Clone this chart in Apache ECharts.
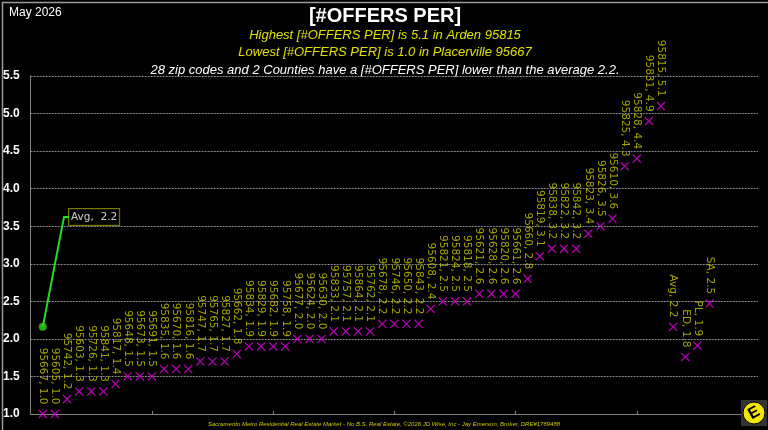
<!DOCTYPE html>
<html>
<head>
<meta charset="utf-8">
<script src="https://cdn.jsdelivr.net/npm/echarts@6/dist/echarts.min.js"></script>
<style>
  html, body { margin: 0; padding: 0; background: #000; }
  #chart { width: 768px; height: 430px; }
</style>
</head>
<body>
<div id="chart"></div>
<script>
// zip codes, sorted low to high
const zips = ['95667', '95605', '95742', '95603', '95726', '95841', '95817', '95648', '95673', '95691',
  '95835', '95670', '95816', '95747', '95765', '95827', '95662', '95834', '95829', '95682',
  '95758', '95677', '95624', '95630', '95833', '95757', '95864', '95762', '95678', '95746',
  '95650', '95843', '95608', '95821', '95824', '95818', '95621', '95628', '95820', '95661',
  '95660', '95819', '95838', '95822', '95842', '95823', '95826', '95610', '95825', '95828',
  '95831', '95815']
const zipValues = [1.0, 1.0, 1.2, 1.3, 1.3, 1.3, 1.4, 1.5, 1.5, 1.5,
  1.6, 1.6, 1.6, 1.7, 1.7, 1.7, 1.8, 1.9, 1.9, 1.9,
  1.9, 2.0, 2.0, 2.0, 2.1, 2.1, 2.1, 2.1, 2.2, 2.2,
  2.2, 2.2, 2.4, 2.5, 2.5, 2.5, 2.6, 2.6, 2.6, 2.6,
  2.8, 3.1, 3.2, 3.2, 3.2, 3.4, 3.5, 3.6, 4.3, 4.4,
  4.9, 5.1]
// average + counties
const countyNames = ['Avg', 'ED', 'PL', 'SA']
const countyValues = [2.16, 1.76, 1.91, 2.47]
const avgValue = 2.16
const yTicks = [1.0, 1.5, 2.0, 2.5, 3.0, 3.5, 4.0, 4.5, 5.0, 5.5]

const magenta = '#e000e0'
const labelYellow = '#cccc00'
const xPath = 'path://M0,1L1,0L5,4L9,0L10,1L6,5L10,9L9,10L5,6L1,10L0,9L4,5Z'

const points = []
zips.forEach((z, i) => {
  points.push([i + 1, zipValues[i], z])
})
countyNames.forEach((c, i) => {
  points.push([zips.length + 1 + i, countyValues[i], c])
})

const chart = echarts.init(document.getElementById('chart'))

const option = {
  backgroundColor: '#000',
  animation: false,
  grid: { left: 30, right: 10, top: 76, bottom: 16 },
  xAxis: {
    type: 'value',
    min: 0,
    max: 60,
    interval: 10,
    axisLine: { show: true, lineStyle: { color: '#808080', width: 1 } },
    axisTick: { show: true, length: 3, inside: true, lineStyle: { color: '#808080' } },
    axisLabel: { show: false },
    splitLine: { show: false }
  },
  yAxis: {
    type: 'value',
    min: yTicks[0],
    max: yTicks[yTicks.length - 1],
    interval: 0.5,
    axisLine: { show: true, lineStyle: { color: '#808080', width: 1 } },
    axisTick: { show: false },
    axisLabel: {
      color: '#fff',
      fontFamily: 'Liberation Sans',
      fontWeight: 'bold',
      fontSize: 12,
      margin: 11,
      formatter: v => v.toFixed(1)
    },
    splitLine: { show: true, lineStyle: { color: '#8a8a8a', type: [2, 1], width: 1 } }
  },
  series: [
    {
      type: 'scatter',
      data: points,
      symbol: xPath,
      symbolSize: 9,
      itemStyle: { color: magenta },
      label: {
        show: true,
        position: 'top',
        distance: 5,
        rotate: -90,
        align: 'right',
        verticalAlign: 'middle',
        color: labelYellow,
        fontFamily: 'DejaVu Sans',
        fontSize: 10.5,
        formatter: p => p.data[2] + ', ' + p.data[1].toFixed(1)
      },
      z: 3
    },
    {
      type: 'scatter',
      data: [[1, avgValue]],
      symbol: 'circle',
      symbolSize: 8,
      itemStyle: { color: '#22dd22', borderColor: '#883322', borderWidth: 0.5 },
      label: {
        show: true,
        position: 'right',
        color: '#fff',
        fontFamily: 'DejaVu Sans',
        fontSize: 10.5,
        backgroundColor: '#000',
        borderColor: '#999900',
        borderWidth: 1,
        padding: [3, 2, 2, 2],
        formatter: p => 'Avg,  ' + p.data[1].toFixed(1)
      },
      labelLayout: { x: 69, y: 217, align: 'left', verticalAlign: 'middle' },
      z: 4
    }
  ],
  graphic: [
    {
      type: 'rect', left: 0, top: 0, z: -1,
      shape: { x: 0.5, y: 0.5, width: 767, height: 429 },
      style: { fill: 'none', stroke: '#9a9a9a', lineWidth: 1.5 }
    },
    {
      type: 'text', x: 9, y: 13,
      style: { text: 'May 2026', fill: '#fff', font: '12px "Liberation Sans"', align: 'left', verticalAlign: 'middle' }
    },
    {
      type: 'text', x: 385, y: 16,
      style: { text: '[#OFFERS PER]', fill: '#fff', font: 'bold 20px "Liberation Sans"', align: 'center', verticalAlign: 'middle' }
    },
    {
      type: 'text', x: 385, y: 35,
      style: { text: 'Highest [#OFFERS PER] is 5.1 in Arden 95815', fill: '#e0e000', font: 'italic 13px "Liberation Sans"', align: 'center', verticalAlign: 'middle' }
    },
    {
      type: 'text', x: 385, y: 52,
      style: { text: 'Lowest [#OFFERS PER] is 1.0 in Placerville 95667', fill: '#e0e000', font: 'italic 13px "Liberation Sans"', align: 'center', verticalAlign: 'middle' }
    },
    {
      type: 'text', x: 385, y: 70,
      style: { text: '28 zip codes and 2 Counties have a [#OFFERS PER] lower than the average 2.2.', fill: '#fff', font: 'italic 13px "Liberation Sans"', align: 'center', verticalAlign: 'middle' }
    },
    {
      type: 'text', x: 384, y: 424,
      style: { text: 'Sacramento Metro Residential Real Estate Market - No B.S. Real Estate, \u00a92026 JD Wise, Inc - Jay Emerson, Broker, DRE#1789488', fill: '#c8c800', font: 'italic 6px "Liberation Sans"', align: 'center', verticalAlign: 'middle' }
    },
    // logo
    {
      type: 'rect', shape: { x: 741, y: 400, width: 26, height: 26 },
      style: { fill: '#333' }, z: 10
    },
    {
      type: 'circle', shape: { cx: 754, cy: 413, r: 11 },
      style: { fill: '#f2e600', stroke: '#000', lineWidth: 1 }, z: 11
    },
    {
      type: 'text', x: 754, y: 413, rotation: 0.5, z: 12,
      style: { text: 'E', fill: '#000', font: 'bold 16px "Liberation Sans"', align: 'center', verticalAlign: 'middle' }
    }
  ]
}

chart.setOption(option)

// leader line from the avg dot to its label box
const dot = chart.convertToPixel({ seriesIndex: 1 }, [1, avgValue])
option.graphic.push({
  type: 'polyline', z: 5,
  shape: { points: [dot, [64, 217], [69, 217]] },
  style: { stroke: '#22dd22', lineWidth: 2, fill: 'none' }
})
chart.setOption({ graphic: option.graphic })
</script>
</body>
</html>
